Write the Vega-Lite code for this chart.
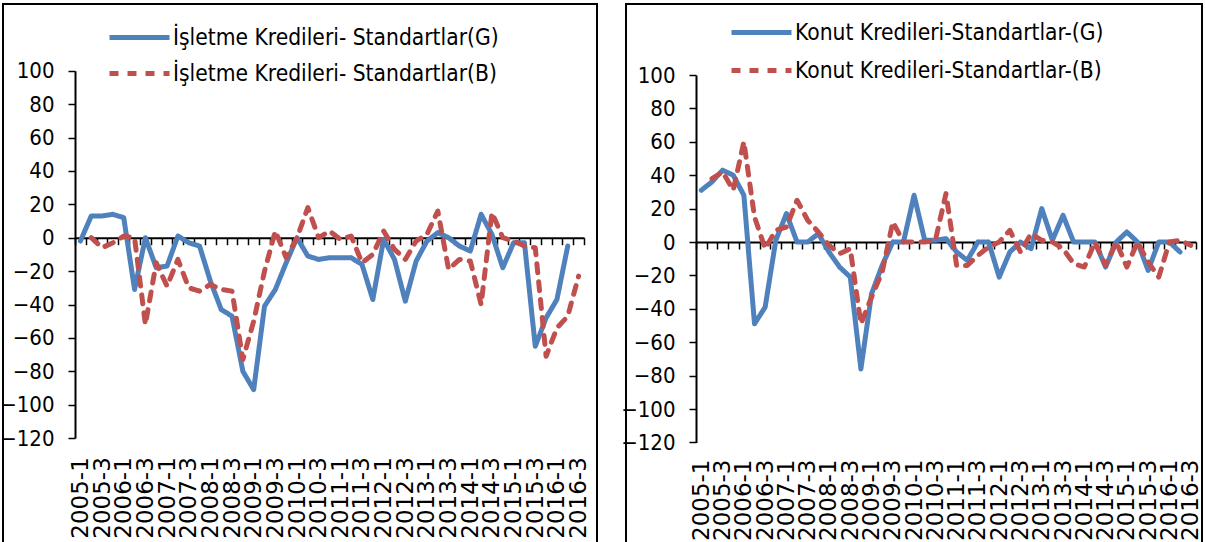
{
  "$schema": "https://vega.github.io/schema/vega-lite/v6.json",
  "padding": {"left": -9, "top": 3, "right": 0, "bottom": 0},
  "autosize": {"type": "pad"},
  "spacing": 29,
  "bounds": "flush",
  "resolve": {
    "scale": {"x": "independent", "y": "independent", "color": "independent", "strokeDash": "independent"},
    "legend": {"color": "independent", "strokeDash": "independent"}
  },
  "config": {
    "view": {"stroke": "black", "strokeWidth": 2},
    "font": "DejaVu Sans Condensed",
    "axis": {"grid": false, "domain": true, "domainColor": "black", "domainWidth": 2, "tickColor": "black", "tickWidth": 1.5, "tickSize": 7, "labelColor": "black", "labelFontSize": 22, "labelFont": "DejaVu Sans Condensed"},
    "legend": {"labelFont": "DejaVu Sans Condensed", "labelFontSize": 22.6, "labelColor": "black", "labelLimit": 600}
  },
  "datasets": {
    "isletme": [
      {"q": "2005-1", "s": "İşletme Kredileri- Standartlar(G)", "v": -2},
      {"q": "2005-2", "s": "İşletme Kredileri- Standartlar(G)", "v": 13},
      {"q": "2005-3", "s": "İşletme Kredileri- Standartlar(G)", "v": 13},
      {"q": "2005-4", "s": "İşletme Kredileri- Standartlar(G)", "v": 14},
      {"q": "2006-1", "s": "İşletme Kredileri- Standartlar(G)", "v": 12},
      {"q": "2006-2", "s": "İşletme Kredileri- Standartlar(G)", "v": -31},
      {"q": "2006-3", "s": "İşletme Kredileri- Standartlar(G)", "v": 0},
      {"q": "2006-4", "s": "İşletme Kredileri- Standartlar(G)", "v": -18},
      {"q": "2007-1", "s": "İşletme Kredileri- Standartlar(G)", "v": -17},
      {"q": "2007-2", "s": "İşletme Kredileri- Standartlar(G)", "v": 1},
      {"q": "2007-3", "s": "İşletme Kredileri- Standartlar(G)", "v": -3},
      {"q": "2007-4", "s": "İşletme Kredileri- Standartlar(G)", "v": -5},
      {"q": "2008-1", "s": "İşletme Kredileri- Standartlar(G)", "v": -26},
      {"q": "2008-2", "s": "İşletme Kredileri- Standartlar(G)", "v": -43},
      {"q": "2008-3", "s": "İşletme Kredileri- Standartlar(G)", "v": -47},
      {"q": "2008-4", "s": "İşletme Kredileri- Standartlar(G)", "v": -80},
      {"q": "2009-1", "s": "İşletme Kredileri- Standartlar(G)", "v": -91},
      {"q": "2009-2", "s": "İşletme Kredileri- Standartlar(G)", "v": -41},
      {"q": "2009-3", "s": "İşletme Kredileri- Standartlar(G)", "v": -31},
      {"q": "2009-4", "s": "İşletme Kredileri- Standartlar(G)", "v": -15},
      {"q": "2010-1", "s": "İşletme Kredileri- Standartlar(G)", "v": 0},
      {"q": "2010-2", "s": "İşletme Kredileri- Standartlar(G)", "v": -11},
      {"q": "2010-3", "s": "İşletme Kredileri- Standartlar(G)", "v": -13},
      {"q": "2010-4", "s": "İşletme Kredileri- Standartlar(G)", "v": -12},
      {"q": "2011-1", "s": "İşletme Kredileri- Standartlar(G)", "v": -12},
      {"q": "2011-2", "s": "İşletme Kredileri- Standartlar(G)", "v": -12},
      {"q": "2011-3", "s": "İşletme Kredileri- Standartlar(G)", "v": -16},
      {"q": "2011-4", "s": "İşletme Kredileri- Standartlar(G)", "v": -37},
      {"q": "2012-1", "s": "İşletme Kredileri- Standartlar(G)", "v": -1},
      {"q": "2012-2", "s": "İşletme Kredileri- Standartlar(G)", "v": -13},
      {"q": "2012-3", "s": "İşletme Kredileri- Standartlar(G)", "v": -38},
      {"q": "2012-4", "s": "İşletme Kredileri- Standartlar(G)", "v": -14},
      {"q": "2013-1", "s": "İşletme Kredileri- Standartlar(G)", "v": -2},
      {"q": "2013-2", "s": "İşletme Kredileri- Standartlar(G)", "v": 3},
      {"q": "2013-3", "s": "İşletme Kredileri- Standartlar(G)", "v": 0},
      {"q": "2013-4", "s": "İşletme Kredileri- Standartlar(G)", "v": -5},
      {"q": "2014-1", "s": "İşletme Kredileri- Standartlar(G)", "v": -8},
      {"q": "2014-2", "s": "İşletme Kredileri- Standartlar(G)", "v": 14},
      {"q": "2014-3", "s": "İşletme Kredileri- Standartlar(G)", "v": 2},
      {"q": "2014-4", "s": "İşletme Kredileri- Standartlar(G)", "v": -18},
      {"q": "2015-1", "s": "İşletme Kredileri- Standartlar(G)", "v": -3},
      {"q": "2015-2", "s": "İşletme Kredileri- Standartlar(G)", "v": -3},
      {"q": "2015-3", "s": "İşletme Kredileri- Standartlar(G)", "v": -65},
      {"q": "2015-4", "s": "İşletme Kredileri- Standartlar(G)", "v": -48},
      {"q": "2016-1", "s": "İşletme Kredileri- Standartlar(G)", "v": -37},
      {"q": "2016-2", "s": "İşletme Kredileri- Standartlar(G)", "v": -5},
      {"q": "2005-2", "s": "İşletme Kredileri- Standartlar(B)", "v": 0},
      {"q": "2005-3", "s": "İşletme Kredileri- Standartlar(B)", "v": -6},
      {"q": "2005-4", "s": "İşletme Kredileri- Standartlar(B)", "v": -3},
      {"q": "2006-1", "s": "İşletme Kredileri- Standartlar(B)", "v": 1},
      {"q": "2006-2", "s": "İşletme Kredileri- Standartlar(B)", "v": 0},
      {"q": "2006-3", "s": "İşletme Kredileri- Standartlar(B)", "v": -52},
      {"q": "2006-4", "s": "İşletme Kredileri- Standartlar(B)", "v": -15},
      {"q": "2007-1", "s": "İşletme Kredileri- Standartlar(B)", "v": -29},
      {"q": "2007-2", "s": "İşletme Kredileri- Standartlar(B)", "v": -13},
      {"q": "2007-3", "s": "İşletme Kredileri- Standartlar(B)", "v": -30},
      {"q": "2007-4", "s": "İşletme Kredileri- Standartlar(B)", "v": -32},
      {"q": "2008-1", "s": "İşletme Kredileri- Standartlar(B)", "v": -28},
      {"q": "2008-2", "s": "İşletme Kredileri- Standartlar(B)", "v": -31},
      {"q": "2008-3", "s": "İşletme Kredileri- Standartlar(B)", "v": -32},
      {"q": "2008-4", "s": "İşletme Kredileri- Standartlar(B)", "v": -73},
      {"q": "2009-1", "s": "İşletme Kredileri- Standartlar(B)", "v": -50},
      {"q": "2009-2", "s": "İşletme Kredileri- Standartlar(B)", "v": -20},
      {"q": "2009-3", "s": "İşletme Kredileri- Standartlar(B)", "v": 4},
      {"q": "2009-4", "s": "İşletme Kredileri- Standartlar(B)", "v": -12},
      {"q": "2010-1", "s": "İşletme Kredileri- Standartlar(B)", "v": 0},
      {"q": "2010-2", "s": "İşletme Kredileri- Standartlar(B)", "v": 18},
      {"q": "2010-3", "s": "İşletme Kredileri- Standartlar(B)", "v": 0},
      {"q": "2010-4", "s": "İşletme Kredileri- Standartlar(B)", "v": 4},
      {"q": "2011-1", "s": "İşletme Kredileri- Standartlar(B)", "v": -1},
      {"q": "2011-2", "s": "İşletme Kredileri- Standartlar(B)", "v": 1},
      {"q": "2011-3", "s": "İşletme Kredileri- Standartlar(B)", "v": -15},
      {"q": "2011-4", "s": "İşletme Kredileri- Standartlar(B)", "v": -10},
      {"q": "2012-1", "s": "İşletme Kredileri- Standartlar(B)", "v": 4},
      {"q": "2012-2", "s": "İşletme Kredileri- Standartlar(B)", "v": -7},
      {"q": "2012-3", "s": "İşletme Kredileri- Standartlar(B)", "v": -13},
      {"q": "2012-4", "s": "İşletme Kredileri- Standartlar(B)", "v": -2},
      {"q": "2013-1", "s": "İşletme Kredileri- Standartlar(B)", "v": 2},
      {"q": "2013-2", "s": "İşletme Kredileri- Standartlar(B)", "v": 16},
      {"q": "2013-3", "s": "İşletme Kredileri- Standartlar(B)", "v": -19},
      {"q": "2013-4", "s": "İşletme Kredileri- Standartlar(B)", "v": -13},
      {"q": "2014-1", "s": "İşletme Kredileri- Standartlar(B)", "v": -14},
      {"q": "2014-2", "s": "İşletme Kredileri- Standartlar(B)", "v": -40},
      {"q": "2014-3", "s": "İşletme Kredileri- Standartlar(B)", "v": 15},
      {"q": "2014-4", "s": "İşletme Kredileri- Standartlar(B)", "v": 0},
      {"q": "2015-1", "s": "İşletme Kredileri- Standartlar(B)", "v": -2},
      {"q": "2015-2", "s": "İşletme Kredileri- Standartlar(B)", "v": -5},
      {"q": "2015-3", "s": "İşletme Kredileri- Standartlar(B)", "v": -6},
      {"q": "2015-4", "s": "İşletme Kredileri- Standartlar(B)", "v": -71},
      {"q": "2016-1", "s": "İşletme Kredileri- Standartlar(B)", "v": -54},
      {"q": "2016-2", "s": "İşletme Kredileri- Standartlar(B)", "v": -47},
      {"q": "2016-3", "s": "İşletme Kredileri- Standartlar(B)", "v": -23}
    ],
    "konut": [
      {"q": "2005-1", "s": "Konut Kredileri-Standartlar-(G)", "v": 31},
      {"q": "2005-2", "s": "Konut Kredileri-Standartlar-(G)", "v": 36},
      {"q": "2005-3", "s": "Konut Kredileri-Standartlar-(G)", "v": 43},
      {"q": "2005-4", "s": "Konut Kredileri-Standartlar-(G)", "v": 40},
      {"q": "2006-1", "s": "Konut Kredileri-Standartlar-(G)", "v": 28},
      {"q": "2006-2", "s": "Konut Kredileri-Standartlar-(G)", "v": -49},
      {"q": "2006-3", "s": "Konut Kredileri-Standartlar-(G)", "v": -39},
      {"q": "2006-4", "s": "Konut Kredileri-Standartlar-(G)", "v": 1},
      {"q": "2007-1", "s": "Konut Kredileri-Standartlar-(G)", "v": 17},
      {"q": "2007-2", "s": "Konut Kredileri-Standartlar-(G)", "v": 0},
      {"q": "2007-3", "s": "Konut Kredileri-Standartlar-(G)", "v": 0},
      {"q": "2007-4", "s": "Konut Kredileri-Standartlar-(G)", "v": 5},
      {"q": "2008-1", "s": "Konut Kredileri-Standartlar-(G)", "v": -6},
      {"q": "2008-2", "s": "Konut Kredileri-Standartlar-(G)", "v": -15},
      {"q": "2008-3", "s": "Konut Kredileri-Standartlar-(G)", "v": -21},
      {"q": "2008-4", "s": "Konut Kredileri-Standartlar-(G)", "v": -76},
      {"q": "2009-1", "s": "Konut Kredileri-Standartlar-(G)", "v": -31},
      {"q": "2009-2", "s": "Konut Kredileri-Standartlar-(G)", "v": -14},
      {"q": "2009-3", "s": "Konut Kredileri-Standartlar-(G)", "v": 0},
      {"q": "2009-4", "s": "Konut Kredileri-Standartlar-(G)", "v": 0},
      {"q": "2010-1", "s": "Konut Kredileri-Standartlar-(G)", "v": 28},
      {"q": "2010-2", "s": "Konut Kredileri-Standartlar-(G)", "v": 1},
      {"q": "2010-3", "s": "Konut Kredileri-Standartlar-(G)", "v": 1},
      {"q": "2010-4", "s": "Konut Kredileri-Standartlar-(G)", "v": 2},
      {"q": "2011-1", "s": "Konut Kredileri-Standartlar-(G)", "v": -6},
      {"q": "2011-2", "s": "Konut Kredileri-Standartlar-(G)", "v": -11},
      {"q": "2011-3", "s": "Konut Kredileri-Standartlar-(G)", "v": 0},
      {"q": "2011-4", "s": "Konut Kredileri-Standartlar-(G)", "v": 0},
      {"q": "2012-1", "s": "Konut Kredileri-Standartlar-(G)", "v": -21},
      {"q": "2012-2", "s": "Konut Kredileri-Standartlar-(G)", "v": -6},
      {"q": "2012-3", "s": "Konut Kredileri-Standartlar-(G)", "v": 0},
      {"q": "2012-4", "s": "Konut Kredileri-Standartlar-(G)", "v": -4},
      {"q": "2013-1", "s": "Konut Kredileri-Standartlar-(G)", "v": 20},
      {"q": "2013-2", "s": "Konut Kredileri-Standartlar-(G)", "v": 1},
      {"q": "2013-3", "s": "Konut Kredileri-Standartlar-(G)", "v": 16},
      {"q": "2013-4", "s": "Konut Kredileri-Standartlar-(G)", "v": 0},
      {"q": "2014-1", "s": "Konut Kredileri-Standartlar-(G)", "v": 0},
      {"q": "2014-2", "s": "Konut Kredileri-Standartlar-(G)", "v": 0},
      {"q": "2014-3", "s": "Konut Kredileri-Standartlar-(G)", "v": -15},
      {"q": "2014-4", "s": "Konut Kredileri-Standartlar-(G)", "v": 0},
      {"q": "2015-1", "s": "Konut Kredileri-Standartlar-(G)", "v": 6},
      {"q": "2015-2", "s": "Konut Kredileri-Standartlar-(G)", "v": 0},
      {"q": "2015-3", "s": "Konut Kredileri-Standartlar-(G)", "v": -17},
      {"q": "2015-4", "s": "Konut Kredileri-Standartlar-(G)", "v": 0},
      {"q": "2016-1", "s": "Konut Kredileri-Standartlar-(G)", "v": 0},
      {"q": "2016-2", "s": "Konut Kredileri-Standartlar-(G)", "v": -6},
      {"q": "2005-2", "s": "Konut Kredileri-Standartlar-(B)", "v": 38},
      {"q": "2005-3", "s": "Konut Kredileri-Standartlar-(B)", "v": 42},
      {"q": "2005-4", "s": "Konut Kredileri-Standartlar-(B)", "v": 31},
      {"q": "2006-1", "s": "Konut Kredileri-Standartlar-(B)", "v": 60},
      {"q": "2006-2", "s": "Konut Kredileri-Standartlar-(B)", "v": 15},
      {"q": "2006-3", "s": "Konut Kredileri-Standartlar-(B)", "v": -4},
      {"q": "2006-4", "s": "Konut Kredileri-Standartlar-(B)", "v": 7},
      {"q": "2007-1", "s": "Konut Kredileri-Standartlar-(B)", "v": 9},
      {"q": "2007-2", "s": "Konut Kredileri-Standartlar-(B)", "v": 25},
      {"q": "2007-3", "s": "Konut Kredileri-Standartlar-(B)", "v": 13},
      {"q": "2007-4", "s": "Konut Kredileri-Standartlar-(B)", "v": 6},
      {"q": "2008-1", "s": "Konut Kredileri-Standartlar-(B)", "v": -2},
      {"q": "2008-2", "s": "Konut Kredileri-Standartlar-(B)", "v": -7},
      {"q": "2008-3", "s": "Konut Kredileri-Standartlar-(B)", "v": -4},
      {"q": "2008-4", "s": "Konut Kredileri-Standartlar-(B)", "v": -49},
      {"q": "2009-1", "s": "Konut Kredileri-Standartlar-(B)", "v": -33},
      {"q": "2009-2", "s": "Konut Kredileri-Standartlar-(B)", "v": -18},
      {"q": "2009-3", "s": "Konut Kredileri-Standartlar-(B)", "v": 12},
      {"q": "2009-4", "s": "Konut Kredileri-Standartlar-(B)", "v": 0},
      {"q": "2010-1", "s": "Konut Kredileri-Standartlar-(B)", "v": 0},
      {"q": "2010-2", "s": "Konut Kredileri-Standartlar-(B)", "v": 0},
      {"q": "2010-3", "s": "Konut Kredileri-Standartlar-(B)", "v": 1},
      {"q": "2010-4", "s": "Konut Kredileri-Standartlar-(B)", "v": 29},
      {"q": "2011-1", "s": "Konut Kredileri-Standartlar-(B)", "v": -14},
      {"q": "2011-2", "s": "Konut Kredileri-Standartlar-(B)", "v": -14},
      {"q": "2011-3", "s": "Konut Kredileri-Standartlar-(B)", "v": -8},
      {"q": "2011-4", "s": "Konut Kredileri-Standartlar-(B)", "v": -3},
      {"q": "2012-1", "s": "Konut Kredileri-Standartlar-(B)", "v": 0},
      {"q": "2012-2", "s": "Konut Kredileri-Standartlar-(B)", "v": 7},
      {"q": "2012-3", "s": "Konut Kredileri-Standartlar-(B)", "v": -6},
      {"q": "2012-4", "s": "Konut Kredileri-Standartlar-(B)", "v": 5},
      {"q": "2013-1", "s": "Konut Kredileri-Standartlar-(B)", "v": 1},
      {"q": "2013-2", "s": "Konut Kredileri-Standartlar-(B)", "v": 0},
      {"q": "2013-3", "s": "Konut Kredileri-Standartlar-(B)", "v": -4},
      {"q": "2013-4", "s": "Konut Kredileri-Standartlar-(B)", "v": -13},
      {"q": "2014-1", "s": "Konut Kredileri-Standartlar-(B)", "v": -15},
      {"q": "2014-2", "s": "Konut Kredileri-Standartlar-(B)", "v": 0},
      {"q": "2014-3", "s": "Konut Kredileri-Standartlar-(B)", "v": -14},
      {"q": "2014-4", "s": "Konut Kredileri-Standartlar-(B)", "v": 0},
      {"q": "2015-1", "s": "Konut Kredileri-Standartlar-(B)", "v": -15},
      {"q": "2015-2", "s": "Konut Kredileri-Standartlar-(B)", "v": 0},
      {"q": "2015-3", "s": "Konut Kredileri-Standartlar-(B)", "v": -12},
      {"q": "2015-4", "s": "Konut Kredileri-Standartlar-(B)", "v": -21},
      {"q": "2016-1", "s": "Konut Kredileri-Standartlar-(B)", "v": 0},
      {"q": "2016-2", "s": "Konut Kredileri-Standartlar-(B)", "v": 1},
      {"q": "2016-3", "s": "Konut Kredileri-Standartlar-(B)", "v": -2}
    ]
  },
  "hconcat": [
    {
      "width": 594,
      "height": 557,
      "data": {"name": "isletme"},
      "mark": {"type": "line", "strokeWidth": 5, "strokeCap": "round", "strokeJoin": "round"},
      "encoding": {
        "x": {
          "field": "q", "type": "ordinal",
          "scale": {"type": "band", "paddingInner": 0, "paddingOuter": 0, "range": [72, 581],
            "domain": ["2005-1","2005-2","2005-3","2005-4","2006-1","2006-2","2006-3","2006-4","2007-1","2007-2","2007-3","2007-4","2008-1","2008-2","2008-3","2008-4","2009-1","2009-2","2009-3","2009-4","2010-1","2010-2","2010-3","2010-4","2011-1","2011-2","2011-3","2011-4","2012-1","2012-2","2012-3","2012-4","2013-1","2013-2","2013-3","2013-4","2014-1","2014-2","2014-3","2014-4","2015-1","2015-2","2015-3","2015-4","2016-1","2016-2","2016-3"]},
          "axis": {"title": null, "orient": "bottom", "offset": -323.3, "tickBand": "extent", "labelAngle": -90, "labelAlign": "right", "labelBaseline": "middle", "labelPadding": 212, "labelFont": "DejaVu Sans", "labelFontSize": 23, "labelOverlap": false, "labelBound": false, "labelExpr": "indexof(['1','3'], substring(datum.value, 5)) >= 0 ? datum.value : ''"}
        },
        "y": {
          "field": "v", "type": "quantitative",
          "scale": {"domain": [-120, 100], "range": [434.1, 66.7], "nice": false, "zero": false},
          "axis": {"title": null, "orient": "left", "offset": -72, "values": [-120,-100,-80,-60,-40,-20,0,20,40,60,80,100], "labelPadding": 14}
        },
        "color": {
          "field": "s", "type": "nominal",
          "scale": {"domain": ["İşletme Kredileri- Standartlar(G)", "İşletme Kredileri- Standartlar(B)"], "range": ["#4F81BD", "#C0504D"]},
          "legend": {"orient": "none", "legendX": 124, "legendY": 21, "title": null, "symbolType": "M-3,0H3", "symbolSize": 400, "symbolStrokeWidth": 5, "labelOffset": 21, "rowPadding": 11, "direction": "vertical"}
        },
        "strokeDash": {
          "field": "s", "type": "nominal",
          "scale": {"domain": ["İşletme Kredileri- Standartlar(G)", "İşletme Kredileri- Standartlar(B)"], "range": [[1, 0], [9, 9]]},
          "legend": {"orient": "none", "legendX": 124, "legendY": 21, "title": null, "symbolType": "M-3,0H3", "symbolSize": 400, "symbolStrokeWidth": 5, "labelOffset": 21, "rowPadding": 11, "direction": "vertical"}
        }
      }
    },
    {
      "width": 576,
      "height": 557,
      "data": {"name": "konut"},
      "mark": {"type": "line", "strokeWidth": 5, "strokeCap": "round", "strokeJoin": "round"},
      "encoding": {
        "x": {
          "field": "q", "type": "ordinal",
          "scale": {"type": "band", "paddingInner": 0, "paddingOuter": 0, "range": [70, 570],
            "domain": ["2005-1","2005-2","2005-3","2005-4","2006-1","2006-2","2006-3","2006-4","2007-1","2007-2","2007-3","2007-4","2008-1","2008-2","2008-3","2008-4","2009-1","2009-2","2009-3","2009-4","2010-1","2010-2","2010-3","2010-4","2011-1","2011-2","2011-3","2011-4","2012-1","2012-2","2012-3","2012-4","2013-1","2013-2","2013-3","2013-4","2014-1","2014-2","2014-3","2014-4","2015-1","2015-2","2015-3","2015-4","2016-1","2016-2","2016-3"]},
          "axis": {"title": null, "orient": "bottom", "offset": -319, "tickBand": "extent", "labelAngle": -90, "labelAlign": "right", "labelBaseline": "middle", "labelPadding": 210, "labelFont": "DejaVu Sans", "labelFontSize": 23, "labelOverlap": false, "labelBound": false, "labelExpr": "indexof(['1','3'], substring(datum.value, 5)) >= 0 ? datum.value : ''"}
        },
        "y": {
          "field": "v", "type": "quantitative",
          "scale": {"domain": [-120, 100], "range": [438.4, 71.0], "nice": false, "zero": false},
          "axis": {"title": null, "orient": "left", "offset": -70, "values": [-120,-100,-80,-60,-40,-20,0,20,40,60,80,100], "labelPadding": 14}
        },
        "color": {
          "field": "s", "type": "nominal",
          "scale": {"domain": ["Konut Kredileri-Standartlar-(G)", "Konut Kredileri-Standartlar-(B)"], "range": ["#4F81BD", "#C0504D"]},
          "legend": {"orient": "none", "legendX": 123, "legendY": 16, "title": null, "symbolType": "M-3,0H3", "symbolSize": 400, "symbolStrokeWidth": 5, "labelOffset": 21, "rowPadding": 13, "direction": "vertical"}
        },
        "strokeDash": {
          "field": "s", "type": "nominal",
          "scale": {"domain": ["Konut Kredileri-Standartlar-(G)", "Konut Kredileri-Standartlar-(B)"], "range": [[1, 0], [9, 9]]},
          "legend": {"orient": "none", "legendX": 123, "legendY": 16, "title": null, "symbolType": "M-3,0H3", "symbolSize": 400, "symbolStrokeWidth": 5, "labelOffset": 21, "rowPadding": 13, "direction": "vertical"}
        }
      }
    }
  ]
}
